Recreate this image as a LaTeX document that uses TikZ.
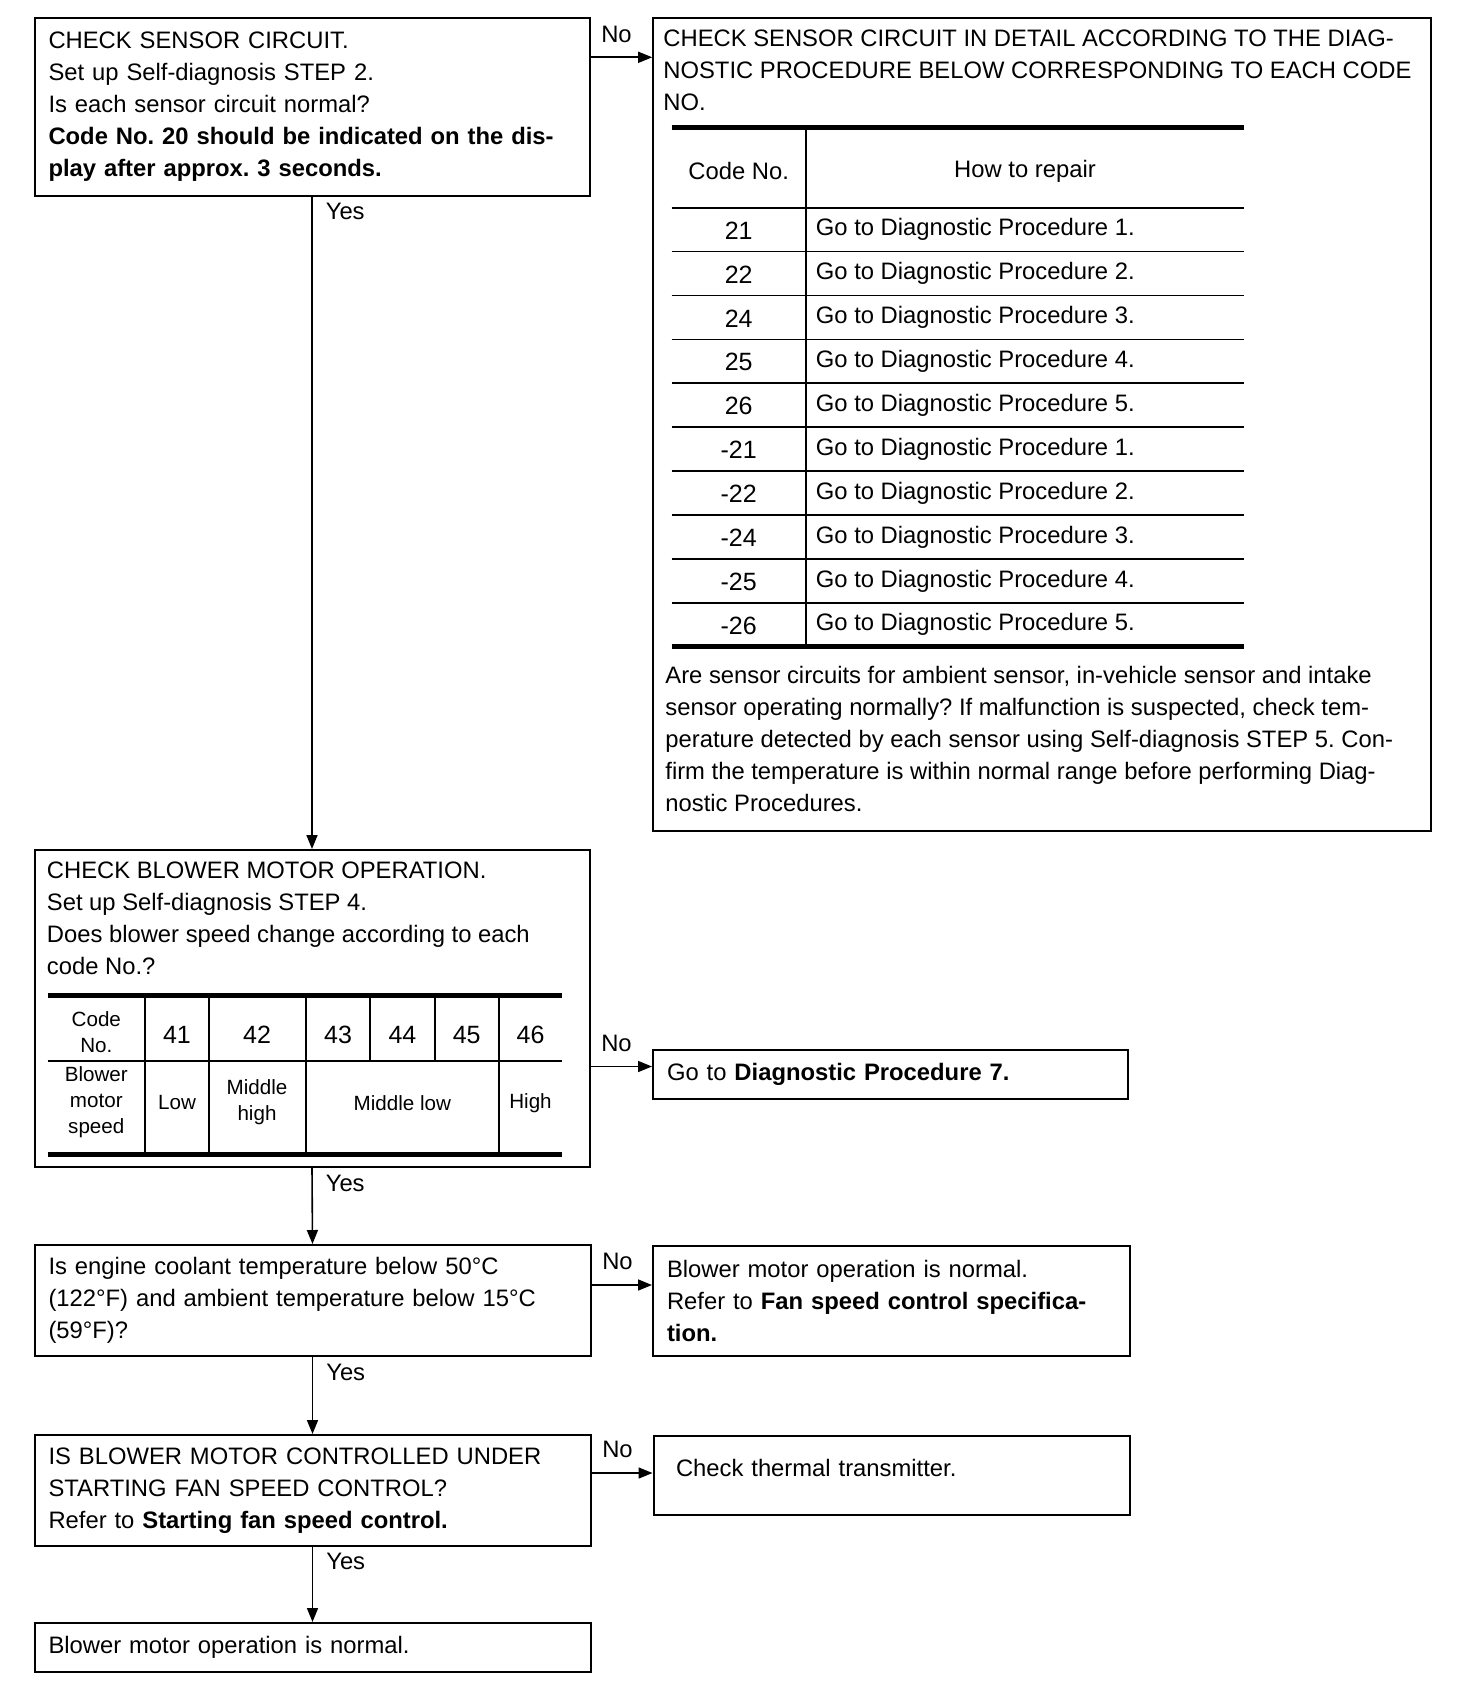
\documentclass[tikz,border=0pt]{standalone}
\usepackage{fontspec}
\setmainfont{Liberation Sans}
\usetikzlibrary{calc}
\usetikzlibrary{arrows.meta}

\frenchspacing
\newcommand{\bodyfont}{\fontsize{11.9}{16}\selectfont}
\newcommand{\cellfont}{\fontsize{10.3}{13}\selectfont}
\newcommand{\codefont}{\fontsize{12.5}{16}\selectfont}

\begin{document}
\begin{tikzpicture}[x=0.5pt, y=-0.5pt,
    stepbox/.style={draw, line width=1pt, anchor=north west, inner xsep=7pt, inner ysep=0pt, align=left, font=\bodyfont},
    plain/.style={inner sep=0pt, align=left, font=\bodyfont},
    cell/.style={inner sep=0pt, align=center, font=\cellfont},
    codetxt/.style={inner sep=0pt, font=\codefont},
    flow/.style={line width=0.8pt, -{Triangle[length=7pt, width=5.5pt]}},
    nolabel/.style={above right, inner xsep=5pt, inner ysep=7pt, font=\bodyfont},
    yeslabel/.style={below right, inner xsep=6.5pt, inner ysep=3pt, font=\bodyfont},
    thinrule/.style={line width=0.9pt},
    thickrule/.style={line width=2.5pt}]

    \useasboundingbox (0,0) rectangle (1472,1696);

    % heights of the No branches
    \coordinate (n1) at (0,57.3);
    \coordinate (n2) at (0,1066.5);
    \coordinate (n3) at (0,1285);
    \coordinate (n4) at (0,1473);

    % left column
    \node[stepbox, minimum width=277.5pt, text width=263.5pt, minimum height=88.7pt] (q1) at (33.5,17.3)
        {CHECK SENSOR CIRCUIT.\\ Set up Self-diagnosis STEP 2.\\ Is each sensor circuit normal?\\
         \textbf{Code No. 20 should be indicated on the dis-}\\ \textbf{play after approx. 3 seconds.}};
    \node[stepbox, minimum width=277.5pt, minimum height=158.5pt] (q2) at (33.5,849) {};
    \node[plain, anchor=west] (q2head) at (46.5,917.8)
        {CHECK BLOWER MOTOR OPERATION.\\ Set up Self-diagnosis STEP 4.\\ Does blower speed change according to each\\ code No.?};
    \node[stepbox, minimum width=278pt, text width=264pt, minimum height=55.5pt] (q3) at (33.5,1244)
        {Is engine coolant temperature below 50°C\\ (122°F) and ambient temperature below 15°C\\ (59°F)?};
    \node[stepbox, minimum width=278pt, text width=264pt, minimum height=55.25pt] (q4) at (33.5,1434)
        {IS BLOWER MOTOR CONTROLLED UNDER\\ STARTING FAN SPEED CONTROL?\\ Refer to \textbf{Starting fan speed control.}};
    \node[stepbox, minimum width=278pt, text width=264pt, minimum height=24.5pt] (q5) at (33.5,1622)
        {Blower motor operation is normal.};

    % right column
    \node[stepbox, minimum width=388.9pt, minimum height=406.2pt] (r1) at (652.2,17.3) {};
    \node[plain, anchor=west] (r1head) at (663,70.3)
        {CHECK SENSOR CIRCUIT IN DETAIL ACCORDING TO THE DIAG-\\ NOSTIC PROCEDURE BELOW CORRESPONDING TO EACH CODE\\ NO.};
    \node[plain, anchor=west] (r1note) at (665,739.3)
        {Are sensor circuits for ambient sensor, in-vehicle sensor and intake\\
         sensor operating normally? If malfunction is suspected, check tem-\\
         perature detected by each sensor using Self-diagnosis STEP 5. Con-\\
         firm the temperature is within normal range before performing Diag-\\
         nostic Procedures.};
    \node[stepbox, minimum width=237.5pt, text width=223.5pt, minimum height=24.5pt] (r2) at (652,1049)
        {Go to \textbf{Diagnostic Procedure 7.}};
    \node[stepbox, minimum width=238.5pt, text width=224.5pt, minimum height=55pt] (r3) at (652,1245)
        {Blower motor operation is normal.\\ Refer to \textbf{Fan speed control specifica-}\\ \textbf{tion.}};
    \node[stepbox, minimum width=238pt, inner xsep=11.25pt, text width=215.5pt, minimum height=39.5pt] (r4) at (652.5,1435)
        {Check thermal transmitter.\\[-8pt]\mbox{}};

    % code table of the sensor check
    \draw[thickrule] (671.7,127.6) -- (1243.8,127.6);
    \draw[thinrule] (805.8,127.6) -- (805.8,646.8);
    \draw[thinrule] (671.7,207.7) -- (1243.8,207.7);
    \foreach \i in {1,...,9}
        \draw[thinrule] (671.7,{207.7+43.9*\i}) -- (1243.8,{207.7+43.9*\i});
    \draw[thickrule] (671.7,646.8) -- (1243.8,646.8);
    \node[plain] (hcode) at (738.7,170.9) {Code No.};
    \node[plain] (hrepair) at (1025,170.9) {How to repair};
    \foreach \code/\proc [count=\i from 0] in {21/1,22/2,24/3,25/4,26/5,-21/1,-22/2,-24/3,-25/4,-26/5}{
        \node[codetxt] (c\i) at (738.7,{230.5+43.9*\i}) {\code};
        \node[plain, anchor=west] (p\i) at (815.5,{229.65+43.9*\i}) {Go to Diagnostic Procedure \proc.};
    }

    % blower speed table
    \draw[thickrule] (47.6,995) -- (562.4,995);
    \draw[thinrule] (47.6,1061) -- (562.4,1061);
    \draw[thickrule] (47.6,1154) -- (562.4,1154);
    \foreach \x in {145,208.7,306,498.6}
        \draw[thinrule] (\x,995) -- (\x,1154);
    \foreach \x in {370,434.8}
        \draw[thinrule] (\x,995) -- (\x,1061);
    \node[cell] (bcode) at (96.3,1032) {Code\\ No.};
    \foreach \x/\c in {177/41,257/42,338/43,402.4/44,466.7/45,530.5/46}
        \node[codetxt] (k\c) at (\x,1035) {\c};
    \node[cell] (bspeed) at (96.3,1102) {Blower\\ motor\\ speed};
    \node[cell] (slow) at (177,1103) {Low};
    \node[cell] (smidhigh) at (257,1102) {Middle\\ high};
    \node[cell] (smidlow) at (402.4,1103) {Middle low};
    \node[cell] (shigh) at (530.5,1103) {High};

    % connectors
    \draw[flow] (q1.east |- n1) -- (r1.west |- n1) node[nolabel, pos=0] (no1) {No};
    \draw[flow] (q2.east |- n2) -- (r2.west |- n2) node[nolabel, pos=0] (no2) {No};
    \draw[flow] (q3.east |- n3) -- (r3.west |- n3) node[nolabel, pos=0] (no3) {No};
    \draw[flow] (q4.east |- n4) -- (r4.west |- n4) node[nolabel, pos=0] (no4) {No};
    \draw[flow] (q1.south) -- (q2.north) node[yeslabel, pos=0] (yes1) {Yes};
    \draw[flow] (q2.south) -- (q3.north) node[yeslabel, pos=0] (yes2) {Yes};
    \draw[flow] (q3.south) -- (q4.north) node[yeslabel, pos=0] (yes3) {Yes};
    \draw[flow] (q4.south) -- (q5.north) node[yeslabel, pos=0] (yes4) {Yes};

\end{tikzpicture}
\end{document}
